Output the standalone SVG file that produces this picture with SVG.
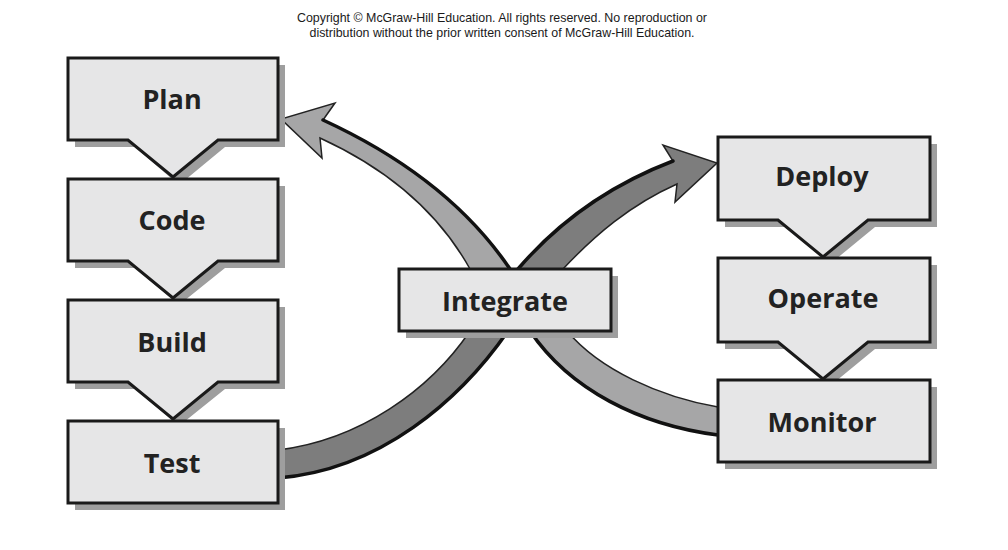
<svg xmlns="http://www.w3.org/2000/svg" width="1008" height="550" viewBox="0 0 1008 550">
<style>
.sh{fill:#9e9e9e}
.bx{fill:#e6e6e7;stroke:#1a1a1a;stroke-width:3;stroke-linejoin:miter}
.lb{font-family:"Open Sans","Liberation Sans",sans-serif;font-weight:700;font-size:27px;fill:#222;text-anchor:middle}
.cp{font-family:"Liberation Sans",Arial,sans-serif;font-size:12.4px;fill:#1a1a1a;text-anchor:middle}
.rd{fill:#7d7d7d;stroke:#222;stroke-width:1.5;stroke-linejoin:miter}
.rl{fill:#a6a6a7;stroke:#222;stroke-width:1.5;stroke-linejoin:miter}
.ed{fill:none;stroke:#111;stroke-width:3.5;stroke-linecap:round}
</style>
<rect width="1008" height="550" fill="#fff"/>
<text class="cp" x="502" y="22">Copyright © McGraw-Hill Education. All rights reserved. No reproduction or</text>
<text class="cp" x="502" y="37">distribution without the prior written consent of McGraw-Hill Education.</text>
<g id="connectors">
<path class="rl" d="M718,407 C660,397 600,370 567,331 L510,269 C470,210 410,160 323,120 L335,103 L281,119 L322,158 L320,138 C390,170 440,215 470,269 L530,331 C570,390 640,425 718,435 Z"/>
<path class="ed" d="M510,269 C470,210 410,160 323,120"/>
<path class="ed" d="M530,331 C570,390 640,425 718,435"/>
<path class="rd" d="M278,450 C360,440 430,390 470,331 L518,269 C560,220 610,185 673,161 L663,145 L717,163 L675,202 L677,184 C630,205 595,235 563,269 L508,331 C460,400 380,470 278,478 Z"/>
<path class="ed" d="M518,269 C560,220 610,185 673,161"/>
<path class="ed" d="M508,331 C460,400 380,470 278,478"/>
</g>
<g id="plan">
<polygon class="sh" points="75,65 285,65 285,147 225,147 179,185 135,147 75,147"/>
<polygon class="bx" points="68,58 278,58 278,140 218,140 173,177 128,140 68,140"/>
<text class="lb" x="172" y="109">Plan</text>
</g>
<g id="code">
<polygon class="sh" points="75,186 285,186 285,268 225,268 179,305 135,268 75,268"/>
<polygon class="bx" points="68,179 278,179 278,261 218,261 173,298 128,261 68,261"/>
<text class="lb" x="172" y="230">Code</text>
</g>
<g id="build">
<polygon class="sh" points="75,307 285,307 285,389 225,389 179,426 135,389 75,389"/>
<polygon class="bx" points="68,300 278,300 278,382 218,382 173,419 128,382 68,382"/>
<text class="lb" x="172" y="352">Build</text>
</g>
<g id="test">
<rect class="sh" x="75" y="428" width="210" height="82"/>
<rect class="bx" x="68" y="421" width="210" height="82"/>
<text class="lb" x="172" y="473">Test</text>
</g>
<g id="integrate">
<rect class="sh" x="406" y="276" width="212" height="62"/>
<rect class="bx" x="399" y="269" width="212" height="62"/>
<text class="lb" x="505" y="311">Integrate</text>
</g>
<g id="deploy">
<polygon class="sh" points="725,144 937,144 937,227 875,227 830,264 785,227 725,227"/>
<polygon class="bx" points="718,137 930,137 930,220 868,220 823,257 778,220 718,220"/>
<text class="lb" x="822" y="186">Deploy</text>
</g>
<g id="operate">
<polygon class="sh" points="725,265 937,265 937,349 875,349 830,386 785,349 725,349"/>
<polygon class="bx" points="718,258 930,258 930,342 868,342 823,379 778,342 718,342"/>
<text class="lb" x="823" y="308">Operate</text>
</g>
<g id="monitor">
<rect class="sh" x="725" y="387" width="212" height="82"/>
<rect class="bx" x="718" y="380" width="212" height="82"/>
<text class="lb" x="822" y="432">Monitor</text>
</g>
</svg>
